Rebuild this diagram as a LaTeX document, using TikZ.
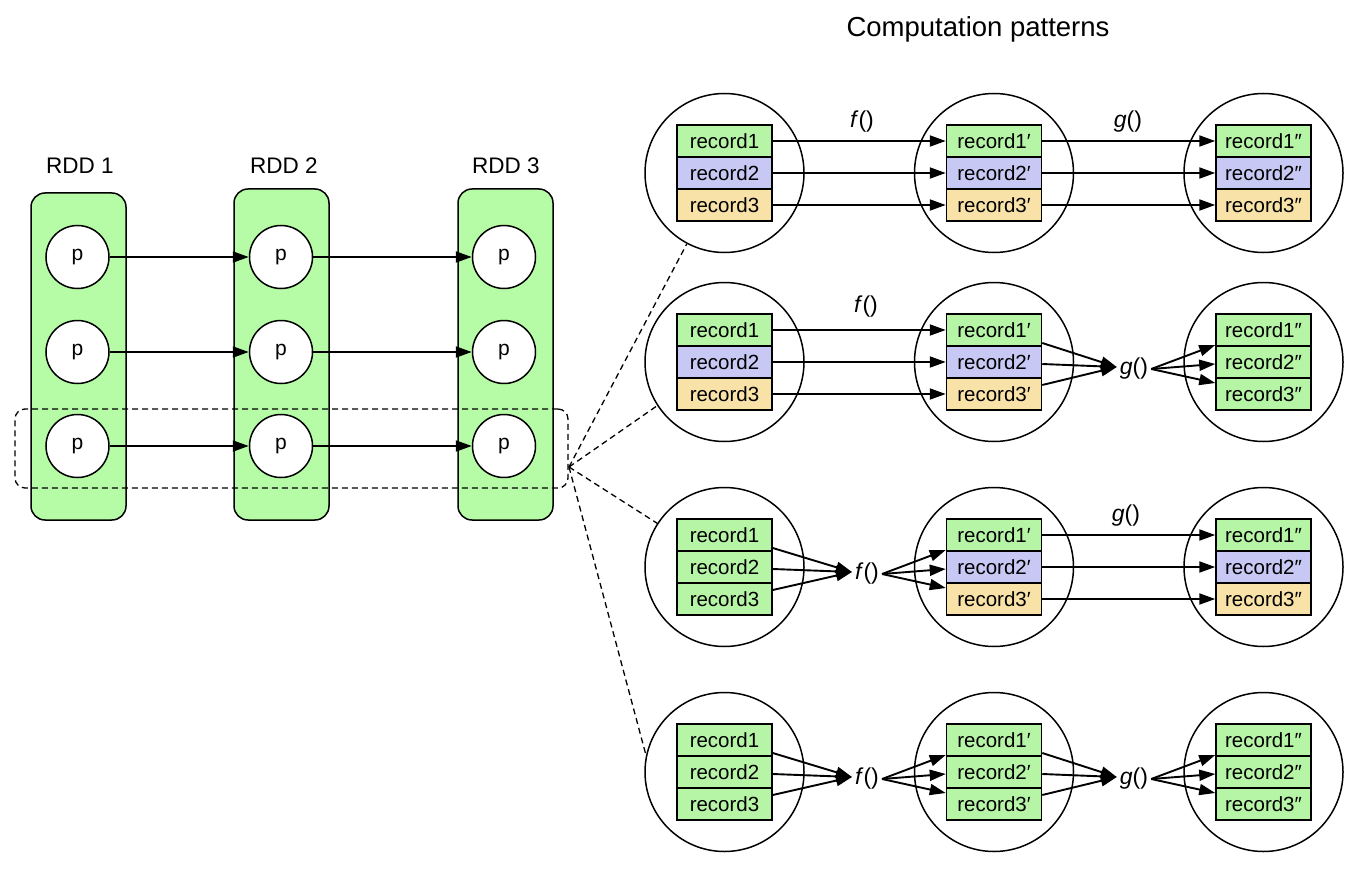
\documentclass[tikz,border=0pt]{standalone}
\usepackage{fontspec}
\setmainfont{Liberation Sans}
\usetikzlibrary{arrows.meta,calc}
\definecolor{rddgreen}{RGB}{182,252,166}
\definecolor{recgreen}{RGB}{182,245,166}
\definecolor{recblue}{RGB}{200,200,245}
\definecolor{recyellow}{RGB}{249,226,168}
\colorlet{mix1}{recgreen}\colorlet{mix2}{recblue}\colorlet{mix3}{recyellow}
\colorlet{grn1}{recgreen}\colorlet{grn2}{recgreen}\colorlet{grn3}{recgreen}
\tikzset{
  arr/.style={-{Triangle[length=16pt,width=11pt]}, line width=1.9pt},
  dsh/.style={dash pattern=on 6pt off 4pt, line width=1.3pt},
  rec/.style={draw, line width=1.5pt, minimum width=95pt, minimum height=32pt, inner sep=0pt, font=\fontsize{20.5}{24}\selectfont},
  circ/.style={circle, draw, line width=1.5pt, minimum size=159pt, inner sep=0pt},
  rdd/.style={draw, fill=rddgreen, rounded corners=14pt, line width=1.5pt, minimum width=95pt, inner sep=0pt},
  rddlab/.style={font=\fontsize{22.5}{26}\selectfont, inner sep=0pt},
  pc/.style={circle, draw, fill=white, line width=1.5pt, minimum size=63pt, inner sep=0pt, font=\fontsize{21}{24}\selectfont},
  lab/.style={font=\fontsize{23}{26}\selectfont, inner sep=0pt, inner xsep=3pt},
}
\begin{document}
\begin{tikzpicture}[x=1pt,y=-1pt]
\fill[white] (0,0) rectangle (1358,872);
\useasboundingbox (0,0) rectangle (1358,872);

% title
\node[font=\fontsize{27.5}{32}\selectfont, anchor=base, inner sep=0pt] (title) at (978,37) {Computation patterns};

% left: RDDs
\node[rdd, minimum height=327pt] (rdd1) at (78.5,356.5) {};
\node[rdd, minimum height=331pt] (rdd2) at (281.5,354.5) {};
\node[rdd, minimum height=331pt] (rdd3) at (505.5,354.5) {};
\node[rddlab] (l1) at (80,166) {RDD 1};
\node[rddlab] (l2) at (284,166) {RDD 2};
\node[rddlab] (l3) at (506,166) {RDD 3};
\foreach \c/\x in {1/77.5,2/281,3/504}
  \foreach \j/\y in {1/257,2/352,3/446}
    \node[pc] (p\c\j) at (\x,\y) {p};
\foreach \j in {1,2,3} {
  \draw[arr] (p1\j) -- (p2\j);
  \draw[arr] (p2\j) -- (p3\j);
}
\node[draw, dsh, rounded corners=10pt, minimum width=553pt, minimum height=79pt, inner sep=0pt] (sel) at (291.5,448.5) {};

% right: patterns
\foreach \r/\m/\sa/\sb/\sc in {1/173/mix/mix/mix,2/362/mix/mix/grn,3/567/grn/mix/mix,4/772/grn/grn/grn}{
  \foreach \c/\x/\s/\p in {1/724.5/\sa/{},2/994/\sb/′,3/1263.5/\sc/″}{
    \node[circ] (c\r\c) at (\x,\m) {};
    \foreach \k in {1,2,3}{
      \node[rec, fill=\s\k] (r\r\c\k) at (\x,{\m+(\k-2)*32}) {record\k\p};
    }
  }
}

% labels
\node[lab] (f1) at (862,122) {\textit{f}()};
\node[lab] (g1) at (1128,122) {\textit{g}()};
\node[lab] (f2) at (866,307) {\textit{f}()};
\node[lab] (g2) at (1134,369) {\textit{g}()};
\node[lab] (f3) at (867,574) {\textit{f}()};
\node[lab] (g3) at (1126,516) {\textit{g}()};
\node[lab] (f4) at (867,779) {\textit{f}()};
\node[lab] (g4) at (1134,779) {\textit{g}()};

% straight arrows
\foreach \r/\a/\b in {1/1/2,1/2/3,2/1/2,3/2/3}
  \foreach \k in {1,2,3}
    \draw[arr] (r\r\a\k.east) -- (r\r\b\k.west);

% fan arrows
\foreach \r/\a/\b/\L in {2/2/3/g2,3/1/2/f3,4/1/2/f4,4/2/3/g4}{
  \foreach \k/\oi/\oo in {1/13/15,2/2/2,3/-9/-11}{
    \draw[arr] ($(r\r\a\k.east)+(0,\oi)$) -- ($(\L.west)+(0,-2)$);
    \draw[arr] (\L.east) -- ($(r\r\b\k.west)+(0,\oo)$);
  }
}

% dashed connectors
\coordinate (fanpt) at (569,467);
\draw[dsh] (fanpt) -- (c11.242);
\draw[dsh] (fanpt) -- (c21.213);
\draw[dsh] (fanpt) -- (c31.147);
\draw[dsh] (fanpt) -- (c41.168);
\end{tikzpicture}
\end{document}
